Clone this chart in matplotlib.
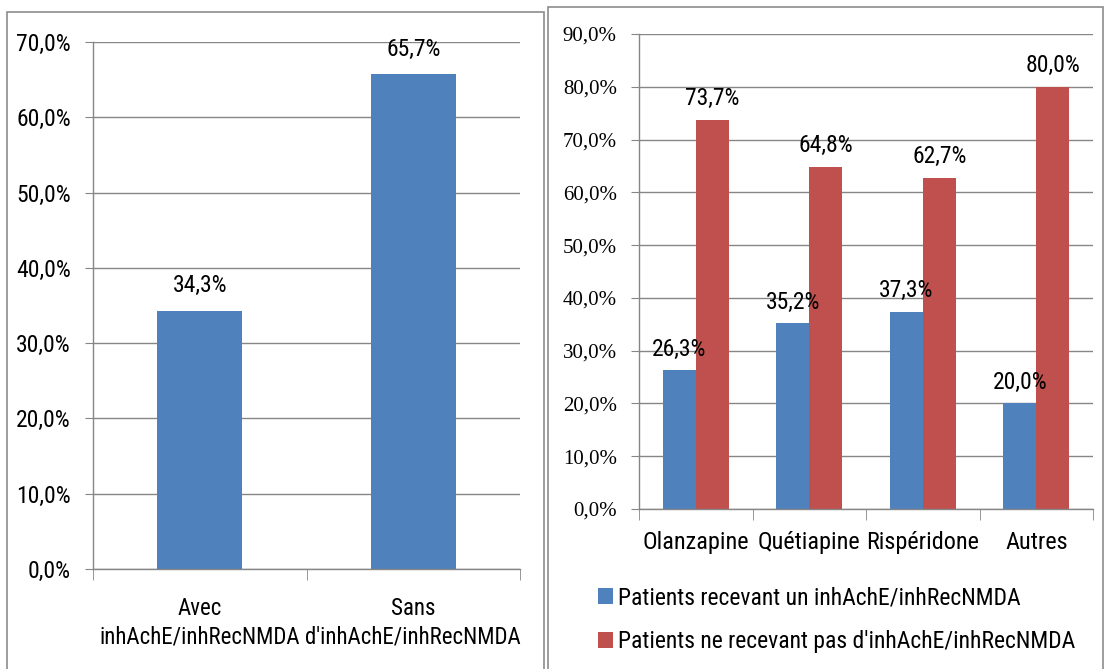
import matplotlib
matplotlib.use("Agg")
import matplotlib.pyplot as plt
from matplotlib import font_manager
from matplotlib.patches import Rectangle
import numpy as np

# ---- data ----
left_categories = ["Avec\ninhAchE/inhRecNMDA", "Sans\nd'inhAchE/inhRecNMDA"]
left_values = [34.3, 65.7]
left_yticks = [0, 10, 20, 30, 40, 50, 60, 70]

right_categories = ["Olanzapine", "Quétiapine", "Rispéridone", "Autres"]
right_with = [26.3, 35.2, 37.3, 20.0]
right_without = [73.7, 64.8, 62.7, 80.0]
right_yticks = [0, 10, 20, 30, 40, 50, 60, 70, 80, 90]
series_names = ["Patients recevant un inhAchE/inhRecNMDA",
                "Patients ne recevant pas d'inhAchE/inhRecNMDA"]

BLUE = "#4F81BD"
RED = "#C0504D"
GRID = "#868686"

avail = {f.name for f in font_manager.fontManager.ttflist}
def pick(cands):
    for c in cands:
        if c in avail:
            return c
    return "DejaVu Sans"
NARROW = pick(["Liberation Sans Narrow", "DejaVu Sans Condensed", "Roboto Condensed", "Liberation Sans"])
SERIF = [pick(["Liberation Serif", "DejaVu Serif"])]

def pct(v):
    return f"{v:.1f}".replace(".", ",") + "%"

W, H = 1107, 669
fig = plt.figure(figsize=(W / 100, H / 100), dpi=100)

def fx(x): return x / W
def fy(y): return 1 - y / H

# panel borders
fig.patches.append(Rectangle((fx(7), fy(672)), fx(544) - fx(7), fy(12) - fy(672),
                             transform=fig.transFigure, fill=False, ec="#8c8c8c", lw=1.2))
fig.patches.append(Rectangle((fx(548), fy(672)), fx(1103) - fx(548), fy(7) - fy(672),
                             transform=fig.transFigure, fill=False, ec="#8c8c8c", lw=1.2))

def style_axes(ax, yticks, ytick_font, ysize, ypad):
    for s in ["top", "right"]:
        ax.spines[s].set_visible(False)
    for s in ["left", "bottom"]:
        ax.spines[s].set_color(GRID)
        ax.spines[s].set_linewidth(1)
    ax.set_yticks(yticks)
    ax.set_yticklabels([pct(v) for v in yticks])
    for t in ax.get_yticklabels():
        t.set_fontfamily(ytick_font)
        t.set_fontsize(ysize)
    ax.yaxis.grid(True, color=GRID, lw=1)
    ax.set_axisbelow(True)
    ax.tick_params(axis="y", length=6, color=GRID, pad=ypad)
    ax.tick_params(axis="x", which="major", length=0)
    ax.tick_params(axis="x", which="minor", length=8, color=GRID)

# ---- left chart ----
axL = fig.add_axes([fx(93), fy(569), fx(520) - fx(93), fy(42) - fy(569)])
xl = np.arange(len(left_categories))
axL.bar(xl, left_values, width=0.4, color=BLUE, zorder=2)
axL.set_xlim(-0.5, len(left_categories) - 0.5)
axL.set_ylim(0, 70)
style_axes(axL, left_yticks, NARROW, 17, 10)
axL.set_xticks(xl)
axL.set_xticklabels(left_categories, fontfamily=NARROW, fontsize=16.5, linespacing=1.3)
axL.set_xticks(np.arange(len(left_categories) + 1) - 0.5, minor=True)
axL.tick_params(axis="x", pad=20)
for x, v in zip(xl, left_values):
    axL.annotate(pct(v), (x, v), xytext=(0, 10), textcoords="offset points",
                 ha="center", va="bottom", fontfamily=NARROW, fontsize=17)

# ---- right chart ----
axR = fig.add_axes([fx(639), fy(509), fx(1093) - fx(639), fy(34) - fy(509)])
xr = np.arange(len(right_categories))
bw = 0.29
b1 = axR.bar(xr - bw / 2, right_with, width=bw, color=BLUE, zorder=2, label=series_names[0])
b2 = axR.bar(xr + bw / 2, right_without, width=bw, color=RED, zorder=2, label=series_names[1])
axR.set_xlim(-0.5, len(right_categories) - 0.5)
axR.set_ylim(0, 90)
style_axes(axR, right_yticks, SERIF, 15, 10)
axR.set_xticks(xr)
axR.set_xticklabels(right_categories, fontfamily=NARROW, fontsize=17.5)
axR.set_xticks(np.arange(len(right_categories) + 1) - 0.5, minor=True)
axR.tick_params(axis="x", pad=16)
for x, v in zip(xr - bw / 2, right_with):
    axR.annotate(pct(v), (x, v), xytext=(0, 7), textcoords="offset points",
                 ha="center", va="bottom", fontfamily=NARROW, fontsize=17)
for x, v in zip(xr + bw / 2, right_without):
    axR.annotate(pct(v), (x, v), xytext=(0, 7), textcoords="offset points",
                 ha="center", va="bottom", fontfamily=NARROW, fontsize=17)

leg = fig.legend(handles=[b1, b2], loc="upper left",
                 bbox_to_anchor=(fx(598), fy(586)), frameon=False,
                 prop={"family": NARROW, "size": 17},
                 handlelength=0.65, handleheight=0.65, handletextpad=0.2,
                 labelspacing=0.9, borderaxespad=0, borderpad=0)

fig.savefig("out.png", dpi=100)
